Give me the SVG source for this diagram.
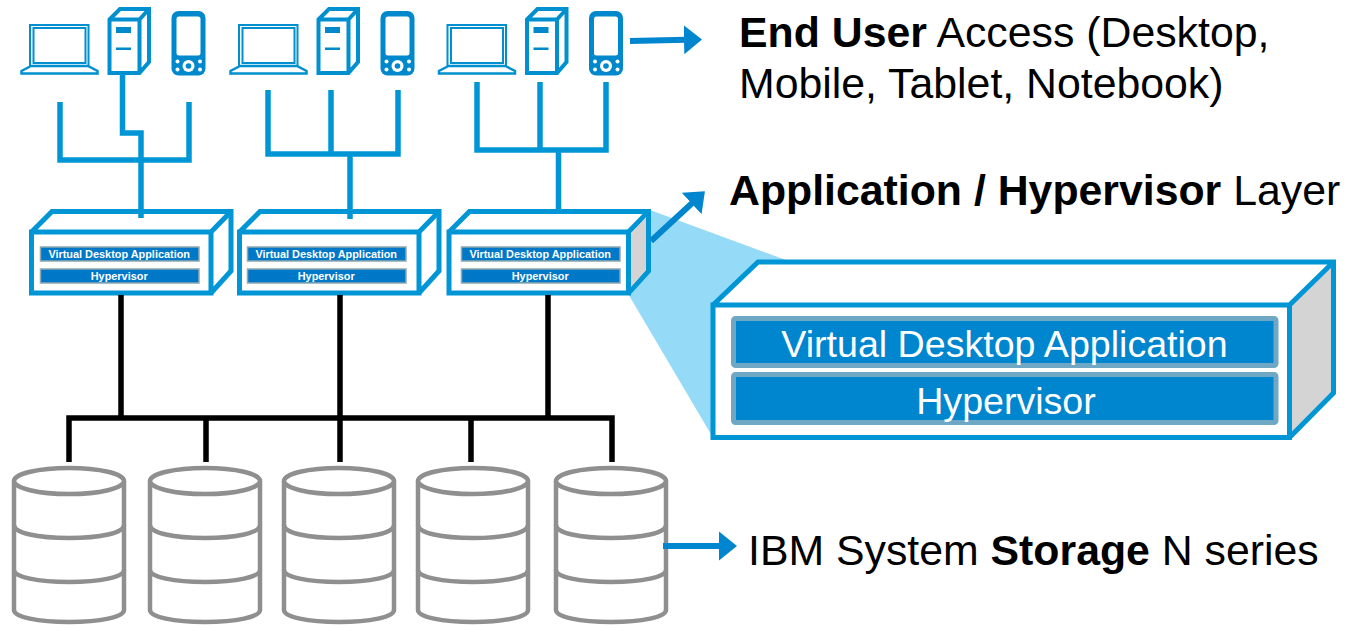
<svg xmlns="http://www.w3.org/2000/svg" width="1350" height="625" viewBox="0 0 1350 625">
<style>
text{font-family:"Liberation Sans",Arial,sans-serif;fill:#000}
.b{font-weight:bold}
.blue{fill:none;stroke:#0096d6;stroke-width:5.500}
.edge{fill:none;stroke:#0096d6;stroke-width:5}
.blk{fill:none;stroke:#000;stroke-width:5.500}
.arr{fill:none;stroke:#0085cf;stroke-width:6}
.ah{fill:#0085cf}
.ic{fill:#fff;stroke:#0090d0}
.bar{fill:#0085cf;stroke:#6fa8c4;stroke-width:5}
.bars{fill:#0078c8;stroke:#8fa8b0;stroke-width:1.500}
.sm{font-size:10.900px;font-weight:bold;fill:#fff;text-anchor:middle}
.lg{font-size:37.600px;fill:#fff;text-anchor:middle}
.cy{fill:#fff;stroke:#8f8f8f;stroke-width:4.500}
.cl{fill:none;stroke:#8f8f8f;stroke-width:4.500}
.hi{fill:#0088cc}
.w{fill:#fff}
.lab{font-size:42.800px}
</style>
<defs>
<g id="laptop">
<path class="ic" stroke-width="2" d="M30 25H88.500V67H30Z"/>
<path class="ic" stroke-width="2" d="M33.500 28H85.500V63H33.500Z"/>
<path class="ic" stroke-width="2.500" d="M31 66L21.500 71V73.500H97.500V71L88 66Z"/>
</g>
<g id="tower">
<path class="ic" stroke-width="4" d="M109.500 19.500L120 9H149V62L139.500 73H109.500ZM109.500 19.500H139.500V73M139.500 19.500L149 9"/>
<rect class="hi" x="116" y="27" width="15" height="6"/>
<rect class="hi" x="116" y="47.500" width="15" height="2.500"/>
</g>
<g id="phone">
<rect class="hi" x="171.500" y="11" width="34" height="64.500" rx="7"/>
<rect class="w" x="176.500" y="16.500" width="24" height="39" rx="2.500"/>
<circle class="w" cx="188.500" cy="66" r="6"/><circle class="hi" cx="188.500" cy="66" r="2.800"/>
<circle class="w" cx="177.500" cy="61.500" r="2"/><circle class="w" cx="200" cy="61.500" r="2"/>
<circle class="w" cx="177.500" cy="69.500" r="2"/><circle class="w" cx="200" cy="69.500" r="2"/>
</g>
<g id="cyl">
<path class="cy" d="M2 14V143C2 150 26 155 57 155S112 150 112 143V14"/>
<ellipse class="cy" cx="57" cy="14" rx="55" ry="13"/>
<path class="cl" d="M2 58C2 66 26 71 57 71S112 66 112 58M2 103C2 110 26 115 57 115S112 110 112 103"/>
</g>
<g id="srv">
<path d="M31.500 232L52 211.500H231V271L211 293H31.500Z" fill="#fff"/>
<path class="edge" d="M31.500 232H211V293H31.500ZM31.500 232L52 211.500H231V271L211 293M211 232L231 211.500"/>
</g>
<g id="bars">
<rect class="bars" x="40.500" y="247" width="158.500" height="14"/>
<rect class="bars" x="40.500" y="269" width="158.500" height="14"/>
<text class="sm" x="119.200" y="258">Virtual Desktop Application</text>
<text class="sm" x="119.200" y="280">Hypervisor</text>
</g>
<marker id="m" markerUnits="userSpaceOnUse" markerWidth="18" markerHeight="30" refX="14" refY="15" orient="auto"><path class="ah" d="M0 0.500L18 15L0 29.500Z"/></marker>
</defs>
<g id="zoom-beam"><polygon points="650,210 786,260 712,305 712,436 627,292" fill="#95dbf7"/></g>
<g id="users-1"><use href="#laptop"/><use href="#tower"/><use href="#phone"/></g>
<g id="users-2" transform="translate(209 0)"><use href="#laptop"/><use href="#tower"/><use href="#phone"/></g>
<g id="users-3" transform="translate(417.500 0)"><use href="#laptop"/><use href="#tower"/><use href="#phone"/></g>
<g id="server-1"><use href="#srv"/><use href="#bars"/></g>
<g id="server-2"><use href="#srv" transform="translate(208 0)"/><use href="#bars" transform="translate(207 0)"/></g>
<g id="server-3"><use href="#srv" transform="translate(417.500 0)"/><path d="M631 234L646 217V270L631 287Z" fill="#d4d4d4"/><use href="#bars" transform="translate(421 0)"/></g>
<g id="server-large">
<path d="M713 305L758 262H1333.500V393L1289.500 437.500H713Z" fill="#fff"/>
<path d="M1289.500 305L1333.500 262V393L1289.500 437.500Z" fill="#d4d4d4"/>
<path class="edge" d="M713 305H1289.500V437.500H713ZM713 305L758 262H1333.500V393L1289.500 437.500M1289.500 305L1333.500 262"/>
<rect class="bar" x="733.500" y="318.500" width="542.500" height="47" rx="2"/>
<rect class="bar" x="733.500" y="374.500" width="542.500" height="48" rx="2"/>
<text class="lg" x="1004.500" y="357">Virtual Desktop Application</text>
<text class="lg" x="1006" y="414">Hypervisor</text>
</g>
<g id="storage">
<use href="#cyl" transform="translate(12 467)"/>
<use href="#cyl" transform="translate(148 467)"/>
<use href="#cyl" transform="translate(282 467)"/>
<use href="#cyl" transform="translate(416 467)"/>
<use href="#cyl" transform="translate(554 467)"/>
</g>
<g id="connectors">
<path class="blue" d="M60 102V160H189V102M122.500 74V133H141V218"/>
<path class="blue" d="M268 90V154H398V90M331 90V154M350 154V219"/>
<path class="blue" d="M477 82V150H606V82M540 82V150M558.500 150V210"/>
<path class="blk" d="M121 295V418M340 295V418M548 295V418M69 462V418H612V462M206 418V462M340 418V462M471 418V462"/>
<path class="arr" d="M630 41L698 39.500" marker-end="url(#m)"/>
<path class="arr" d="M651 241L702 194" marker-end="url(#m)"/>
<path class="arr" d="M663 546H733" marker-end="url(#m)"/>
</g>
<g id="labels">
<text class="lab" x="739" y="47"><tspan class="b">End User</tspan> Access (Desktop,</text>
<text class="lab" x="739" y="98">Mobile, Tablet, Notebook)</text>
<text class="lab" x="729" y="205"><tspan class="b">Application / Hypervisor</tspan> Layer</text>
<text class="lab" x="748" y="565">IBM System <tspan class="b">Storage</tspan> N series</text>
</g>
</svg>
